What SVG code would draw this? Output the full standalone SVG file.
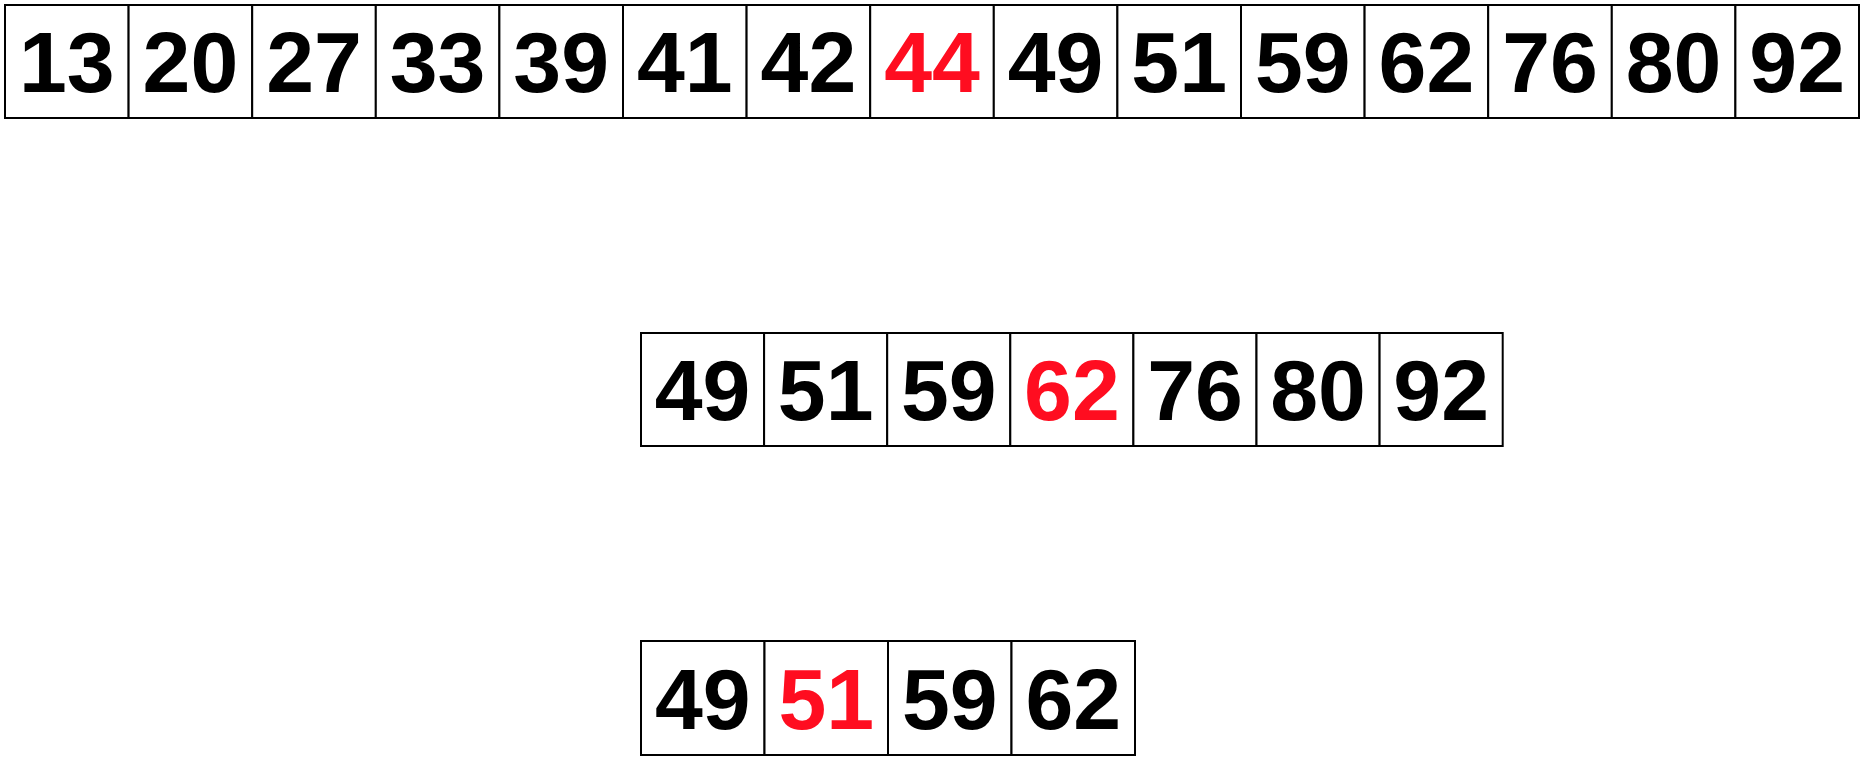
<svg xmlns="http://www.w3.org/2000/svg" width="1866" height="762" viewBox="0 0 1866 762">
<style>
.c{fill:#fff;stroke:#000;stroke-width:2}
.t{font-family:"Liberation Sans",Arial,sans-serif;font-weight:bold;font-size:86px;text-anchor:middle;fill:#000}
.r{fill:#ff0d20}
</style>
<rect width="1866" height="762" fill="#fff"/>
<g id="row1">
<g id="r1c1"><rect class="c" x="5" y="5" width="123.6" height="113"/><text class="t" x="66.8" y="92">13</text></g>
<g id="r1c2"><rect class="c" x="128.6" y="5" width="123.6" height="113"/><text class="t" x="190.4" y="92">20</text></g>
<g id="r1c3"><rect class="c" x="252.2" y="5" width="123.6" height="113"/><text class="t" x="314" y="92">27</text></g>
<g id="r1c4"><rect class="c" x="375.8" y="5" width="123.6" height="113"/><text class="t" x="437.6" y="92">33</text></g>
<g id="r1c5"><rect class="c" x="499.4" y="5" width="123.6" height="113"/><text class="t" x="561.2" y="92">39</text></g>
<g id="r1c6"><rect class="c" x="623" y="5" width="123.6" height="113"/><text class="t" x="684.8" y="92">41</text></g>
<g id="r1c7"><rect class="c" x="746.6" y="5" width="123.6" height="113"/><text class="t" x="808.4" y="92">42</text></g>
<g id="r1c8"><rect class="c" x="870.2" y="5" width="123.6" height="113"/><text class="t r" x="932" y="92">44</text></g>
<g id="r1c9"><rect class="c" x="993.8" y="5" width="123.6" height="113"/><text class="t" x="1055.6" y="92">49</text></g>
<g id="r1c10"><rect class="c" x="1117.4" y="5" width="123.6" height="113"/><text class="t" x="1179.2" y="92">51</text></g>
<g id="r1c11"><rect class="c" x="1241" y="5" width="123.6" height="113"/><text class="t" x="1302.8" y="92">59</text></g>
<g id="r1c12"><rect class="c" x="1364.6" y="5" width="123.6" height="113"/><text class="t" x="1426.4" y="92">62</text></g>
<g id="r1c13"><rect class="c" x="1488.2" y="5" width="123.6" height="113"/><text class="t" x="1550" y="92">76</text></g>
<g id="r1c14"><rect class="c" x="1611.8" y="5" width="123.6" height="113"/><text class="t" x="1673.6" y="92">80</text></g>
<g id="r1c15"><rect class="c" x="1735.4" y="5" width="123.6" height="113"/><text class="t" x="1797.2" y="92">92</text></g>
</g>
<g id="row2">
<g id="r2c1"><rect class="c" x="641" y="333" width="123.1" height="113"/><text class="t" x="702.6" y="420">49</text></g>
<g id="r2c2"><rect class="c" x="764.1" y="333" width="123.1" height="113"/><text class="t" x="825.7" y="420">51</text></g>
<g id="r2c3"><rect class="c" x="887.2" y="333" width="123.1" height="113"/><text class="t" x="948.8" y="420">59</text></g>
<g id="r2c4"><rect class="c" x="1010.3" y="333" width="123.1" height="113"/><text class="t r" x="1071.9" y="420">62</text></g>
<g id="r2c5"><rect class="c" x="1133.4" y="333" width="123.1" height="113"/><text class="t" x="1195" y="420">76</text></g>
<g id="r2c6"><rect class="c" x="1256.5" y="333" width="123.1" height="113"/><text class="t" x="1318.1" y="420">80</text></g>
<g id="r2c7"><rect class="c" x="1379.6" y="333" width="123.1" height="113"/><text class="t" x="1441.2" y="420">92</text></g>
</g>
<g id="row3">
<g id="r3c1"><rect class="c" x="641" y="641" width="123.5" height="114"/><text class="t" x="702.8" y="729">49</text></g>
<g id="r3c2"><rect class="c" x="764.5" y="641" width="123.5" height="114"/><text class="t r" x="826.3" y="729">51</text></g>
<g id="r3c3"><rect class="c" x="888" y="641" width="123.5" height="114"/><text class="t" x="949.8" y="729">59</text></g>
<g id="r3c4"><rect class="c" x="1011.5" y="641" width="123.5" height="114"/><text class="t" x="1073.3" y="729">62</text></g>
</g>
<g id="connectors"/>
</svg>
